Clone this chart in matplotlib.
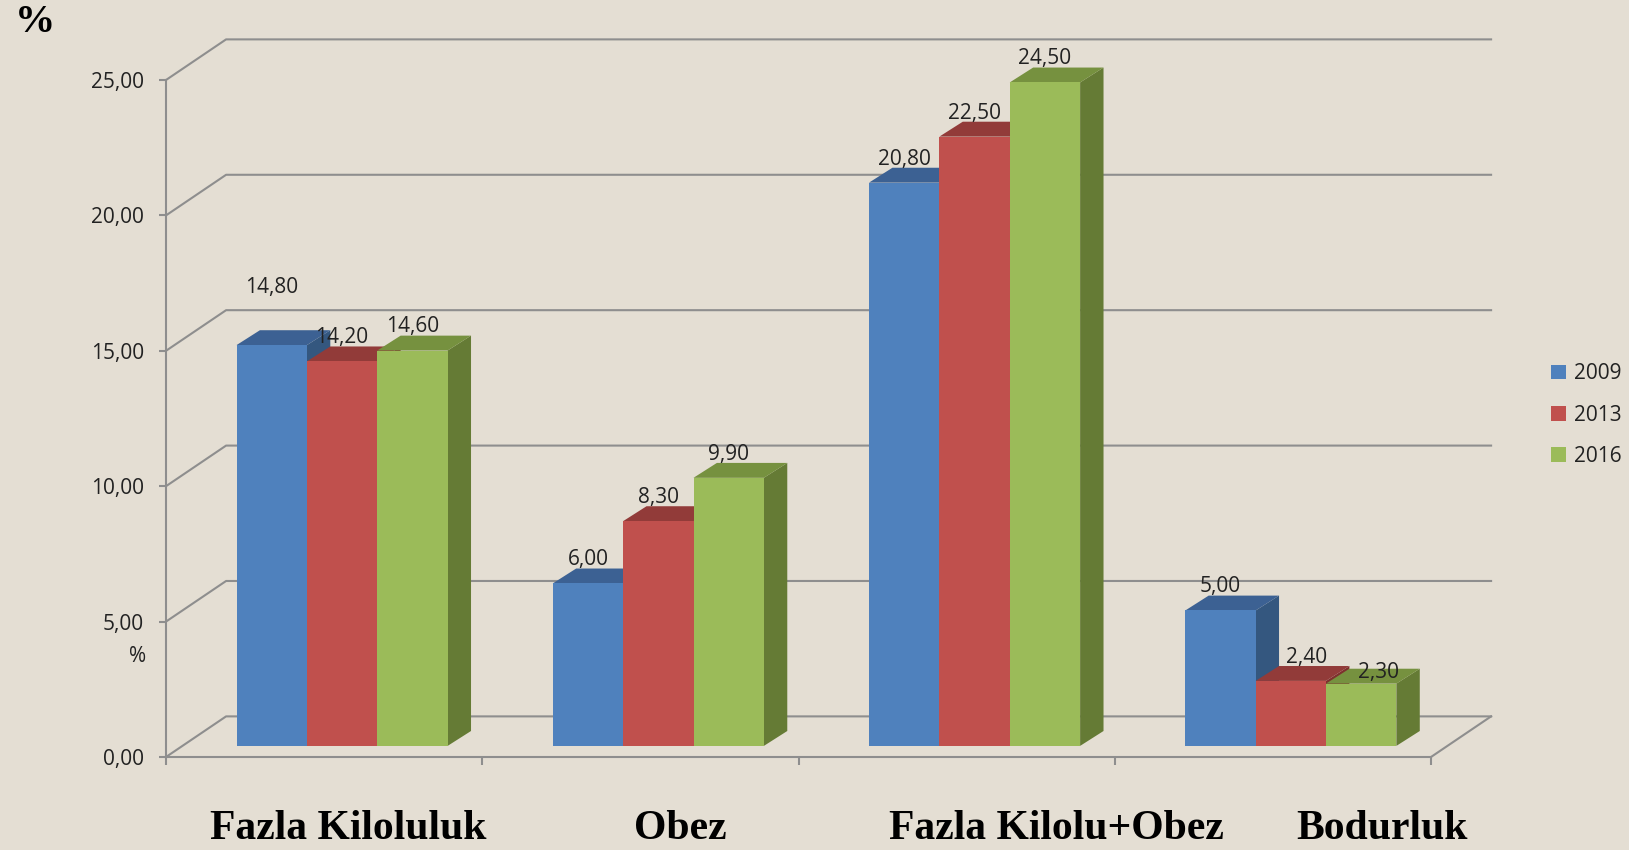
import matplotlib.pyplot as plt
from matplotlib.patches import Polygon

# chart data
categories = ["Fazla Kiloluluk", "Obez", "Fazla Kilolu+Obez", "Bodurluk"]
years = ["2009", "2013", "2016"]
values_2009 = [14.80, 6.00, 20.80, 5.00]
values_2013 = [14.20, 8.30, 22.50, 2.40]
values_2016 = [14.60, 9.90, 24.50, 2.30]
y_ticks = [0, 5, 10, 15, 20, 25]

series = [values_2009, values_2013, values_2016]

# colours: front, top and side faces of each series
front_colors = ["#4F81BD", "#C0504D", "#9BBB59"]
top_colors = ["#3C6193", "#923B39", "#76913F"]
side_colors = ["#34577F", "#7E302E", "#657B35"]
bg = "#E4DED3"
grid_col = "#8E8E8E"

# 3D look (in data units)
wall_dx, wall_dy = 0.19, 1.5        # offset of the back wall
shift_dx, shift_dy = 0.052, 0.41    # bars sit a bit behind the front plane
bar_dx, bar_dy = 0.074, 0.55        # bar depth
bar_w = 0.2225
group_off = 0.171

# label tweaks where the original moved a few labels
label_nudge = {(0, 0): (0.0, 1.27), (3, 1): (0.05, 0.0), (3, 2): (0.055, -0.45)}

plt.rcParams["font.family"] = ["Open Sans", "DejaVu Sans"]

fig = plt.figure(figsize=(16.29, 8.5), dpi=100, facecolor=bg)
ax = fig.add_axes([166 / 1629, 1 - 757 / 850, 1265 / 1629, 677 / 850])
ax.set_facecolor("none")
ax.set_xlim(0, len(categories))
ax.set_ylim(0, 25)

# back wall gridlines
for v in y_ticks:
    ax.plot([0, wall_dx, len(categories) + wall_dx], [v, v + wall_dy, v + wall_dy],
            color=grid_col, lw=1.5, clip_on=False, zorder=1)
ax.plot([len(categories), len(categories) + wall_dx], [0, wall_dy],
        color=grid_col, lw=1.5, clip_on=False, zorder=1)

z = 2
for i in range(len(categories)):
    for j, vals in enumerate(series):
        v = vals[i]
        x0 = i + group_off + j * bar_w + shift_dx
        x1 = x0 + bar_w
        y0 = shift_dy
        y1 = y0 + v
        side = Polygon([(x1, y0), (x1 + bar_dx, y0 + bar_dy), (x1 + bar_dx, y1 + bar_dy), (x1, y1)],
                       closed=True, facecolor=side_colors[j], edgecolor="none", zorder=z, clip_on=False)
        top = Polygon([(x0, y1), (x0 + bar_dx, y1 + bar_dy), (x1 + bar_dx, y1 + bar_dy), (x1, y1)],
                      closed=True, facecolor=top_colors[j], edgecolor="none", zorder=z, clip_on=False)
        ax.add_patch(side)
        ax.add_patch(top)
        ax.bar(x0, v, width=bar_w, bottom=y0, align="edge", color=front_colors[j],
               edgecolor="none", zorder=z + 0.5, clip_on=False,
               label=years[j] if i == 0 else None)
        nx, ny = label_nudge.get((i, j), (0, 0))
        ax.text(x0 + bar_w / 2 + nx, y1 + bar_dy + 0.32 + ny, f"{v:.2f}".replace(".", ","),
                ha="center", va="center", fontsize=15, color="#222222", zorder=50)
        z += 1

# axes styling
for s in ["top", "right"]:
    ax.spines[s].set_visible(False)
for s in ["left", "bottom"]:
    ax.spines[s].set_color(grid_col)
    ax.spines[s].set_linewidth(1.5)
ax.set_yticks(y_ticks)
ax.set_yticklabels([f"{t:.2f}".replace(".", ",") for t in y_ticks])
ax.set_xticks(range(len(categories) + 1))
ax.set_xticklabels([])
ax.tick_params(axis="y", direction="out", length=5, width=1.5, color=grid_col,
               labelsize=15, pad=11, labelcolor="#222222")
ax.tick_params(axis="x", direction="out", length=6, width=1.5, color=grid_col)

# category labels
cat_x = [348, 680, 1056, 1382]
for name, cx in zip(categories, cat_x):
    fig.text(cx / 1629, 1 - 829 / 850, name, ha="center", va="center",
             fontsize=30, fontweight="bold", family="Liberation Serif", color="black")

fig.text(35 / 1629, 1 - 23 / 850, "%", ha="center", va="center",
         fontsize=29, fontweight="bold", family="Liberation Serif", color="black")
fig.text(138 / 1629, 1 - 657 / 850, "%", ha="center", va="center",
         fontsize=15, color="#222222")

leg = fig.legend(loc="center left", bbox_to_anchor=(1551 / 1629, 1 - 415 / 850),
                 frameon=False, fontsize=15, handlelength=0.7, handleheight=0.7,
                 handletextpad=0.4, labelspacing=0.98, borderpad=0, borderaxespad=0)
for t in leg.get_texts():
    t.set_color("#222222")

fig.savefig("out.png", dpi=100, facecolor=bg)
